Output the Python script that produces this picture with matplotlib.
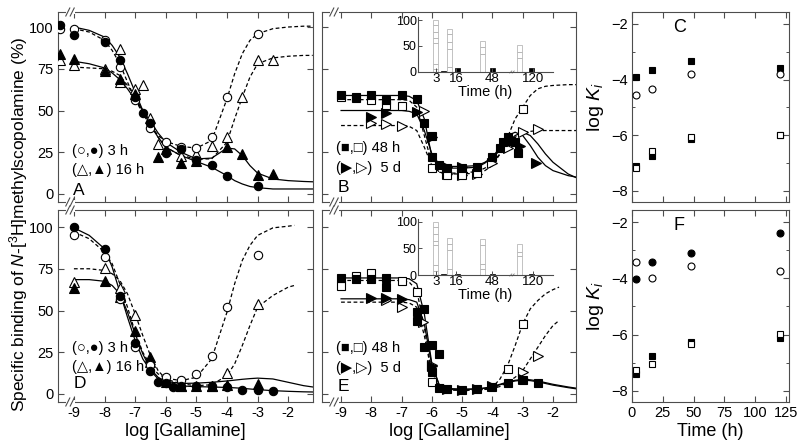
import matplotlib
matplotlib.use("Agg")
import matplotlib.pyplot as plt
import numpy as np

plt.rcParams['font.family'] = ['Liberation Sans', 'DejaVu Sans']
plt.rcParams['mathtext.fontset'] = 'custom'
plt.rcParams['mathtext.rm'] = 'Liberation Sans'
plt.rcParams['mathtext.it'] = 'Liberation Sans:italic'

# ---------------- data: panel A (3 h / 16 h, log[gallamine]) ----------------
A_FC_X = [-9.45, -9, -8, -7.5, -7, -6.75, -6.5, -6, -5.5, -5, -4.5, -4, -3]
A_FC_Y = [101, 95, 91, 80, 58, 48.5, 42.5, 24.5, 27, 20.5, 17.5, 10.8, 4.5]
A_OC_X = [-9.45, -9, -8, -7.5, -7, -6.5, -6, -5.5, -5, -4.5, -4, -3]
A_OC_Y = [99, 99, 92, 76, 56, 39.5, 31, 28, 27.5, 34, 58, 96]
A_FT_X = [-9.45, -9, -8, -7.5, -7, -6.25, -6, -5.5, -5, -4, -3.5, -3, -2.5]
A_FT_Y = [84, 81, 73.5, 69, 60, 22, 27, 18.5, 20, 28, 24, 11.5, 12]
A_OT_X = [-9.45, -9, -8, -7.5, -7.5, -7, -6.75, -6.5, -6.25, -5.5, -5, -4.5, -4, -3.5, -3, -2.5]
A_OT_Y = [80, 77, 75, 87, 67, 63, 65.5, 45.5, 30, 23, 24, 29, 34, 58, 80, 80]

GRID_AD = [-9, -8.5, -8, -7.75, -7.5, -7.25, -7, -6.75, -6.5, -6.25, -6, -5.5, -5,
           -4.5, -4, -3.75, -3.5, -3.25, -3, -2.5, -2, -1.5, -1.2]
A_FIT_FC = [100, 98, 94, 89, 82, 72, 61, 50, 41, 34, 28, 23, 19.5, 16, 11, 8, 6, 4.5, 3.8, 3, 3, 3, 3]
A_FIT_FT = [79.5, 78, 75.5, 72.5, 68.5, 63, 56.5, 50, 43.5, 36.5, 31, 25, 21, 21.5, 27.5, 27, 23, 17, 12.5, 9, 8, 7.5, 7.3]
A_FIT_OC = [99, 97, 92, 86, 78, 67, 57, 48, 41, 35, 31.5, 28.5, 27.5, 32, 57, 72, 84, 92, 96, 99, 100, 100.5, 100.5]
A_FIT_OT = [76, 75.5, 75, 73.5, 71, 65, 58, 50, 42, 34, 28, 23, 21, 21, 31, 45, 58, 70, 78, 81.5, 82.5, 83, 83]

# ---------------- data: panel B (48 h / 5 d) ----------------
B_FS_X = [-9, -8.5, -8, -7.5, -7, -6.5, -6.25, -6, -6, -5.75, -5.5, -5, -4.5, -4, -3.75, -3.65, -3.5, -3.4, -3.25, -3.15]
B_FS_Y = [59, 58, 59.5, 56, 59, 57, 42.5, 35, 22, 17.5, 15.5, 15.5, 16, 22, 27.5, 31, 34, 32, 31, 24.5]
B_OS_X = [-9, -8.5, -8, -7.5, -7, -6, -5.5, -5, -4.5, -3]
B_OS_Y = [58, 57.5, 56, 53, 52.7, 15.5, 11.4, 11.4, 12.5, 51]
B_FT_X = [-8, -7.5, -6.5, -6, -5.5, -5, -3.1, -2.55]
B_FT_Y = [46, 48.5, 49, 34, 16, 16, 29, 18.5]
B_OT_X = [-8, -7.5, -7, -6.25, -5.5, -5, -4.5, -4, -3.5, -3, -2.5]
B_OT_Y = [42.5, 42, 40.7, 50, 12, 11.5, 12, 18.5, 27.5, 37, 39]

GRID_BE = [-9, -8.5, -8, -7.5, -7.25, -7, -6.75, -6.5, -6.25, -6, -5.75, -5.5, -5,
           -4.5, -4.25, -4, -3.75, -3.5, -3.25, -3, -2.75, -2.5, -2.25, -2, -1.5, -1.2]
B_FIT_FS = [59, 59, 59, 59, 59, 59, 58.5, 56, 45, 22, 16, 15.5, 15.5, 16, 18.5, 22, 28, 35, 37, 35, 29, 22, 17, 14, 11, 10]
B_FIT_FT = [50, 50, 50, 50, 50, 50, 49.5, 48, 38, 24, 17.5, 16.5, 16.5, 17, 19, 22, 26, 31, 35, 37, 35, 30, 24, 19, 12, 9.5]
B_FIT_OS = [56.5, 56.5, 56.5, 56.5, 56.5, 56.5, 56, 52, 35, 18, 13, 12, 12, 12.5, 14, 17, 24, 34, 45, 52, 59, 63, 64.5, 65, 65.5, 65.5]
B_FIT_OT = [41, 41, 41, 41, 41, 41, 40.5, 38, 28, 17, 13, 12.5, 12.5, 13.5, 15.5, 19, 24, 29, 34, 36.5, 37.5, 38, 38, 38, 38, 38]

# ---------------- data: panel D (3 h / 16 h) ----------------
D_FC_X = [-9, -8, -7.5, -7, -6.5, -6.25, -6, -5.75, -5.5, -5, -4.5, -4, -3.5, -3, -2.5]
D_FC_Y = [100, 87, 58.7, 30.5, 14, 7.4, 6.4, 4.2, 4.6, 4.6, 4.6, 4.2, 2.6, 2.6, 1.8]
D_OC_X = [-9, -8, -7.5, -7, -6.5, -6, -5.5, -5, -4.5, -4, -3]
D_OC_Y = [95, 82, 57, 28, 17.5, 10.4, 8.6, 12, 23, 52, 83.5]
D_FT_X = [-9, -8, -7.5, -7, -6.5, -6, -5.5, -5, -4.5, -4, -3]
D_FT_Y = [63.5, 67.7, 58, 37.7, 22, 7.3, 4.6, 4.6, 4.6, 5.6, 6.2]
D_OT_X = [-9, -8, -7.5, -7, -6.5, -5.5, -4.5, -4, -3]
D_OT_Y = [67, 75.5, 63.5, 47.3, 19, 4.6, 4.6, 12.6, 53.6]

D_FIT_FC = [99.5, 95, 87, 76, 61, 46, 32, 21, 14, 9, 6.3, 4.8, 4.4, 4.2, 3.9, 3.7, 3.4, 3, 2.6, 2, 1.6, 1.3, 1.2]
D_FIT_FT = [68.5, 68.5, 67.5, 65, 60, 49, 36, 24, 15, 10, 7.5, 6.3, 6.5, 7, 7.8, 8.3, 8.8, 9.2, 9.5, 9, 7, 5, 4.2]
GRID_AD_DASH = [-9, -8.5, -8, -7.75, -7.5, -7.25, -7, -6.75, -6.5, -6.25, -6, -5.5, -5,
                -4.5, -4, -3.75, -3.5, -3.25, -3, -2.5, -2, -1.8]
D_FIT_OC = [97, 93, 85, 78, 66, 52, 37, 25, 17, 12, 9.5, 8, 10, 21, 49, 66, 80, 89, 95, 99.5, 100.5, 101]
D_FIT_OT = [75, 75, 74, 72, 68, 60, 48, 35, 23, 14, 9, 6, 5, 5.5, 11, 18, 29, 41, 52, 59, 64, 65]

# ---------------- data: panel E (48 h / 5 d) ----------------
E_FS_X = [-9, -8.5, -8, -7.5, -7.5, -6.5, -6.5, -6.25, -6.25, -6, -6, -5.75, -5.75, -5.5, -5, -4.5, -4, -3.5, -3, -2.5]
E_FS_Y = [69.5, 69, 69, 69.5, 64, 49, 44, 51, 28, 29.3, 13, 24, 3.6, 3, 2.4, 3, 4.2, 6.6, 8.4, 6.6]
E_OS_X = [-9, -8.5, -8, -7, -6.5, -6, -3.5, -3]
E_OS_Y = [64.7, 70.7, 72.5, 67.7, 61, 7, 15, 42]
E_FT_X = [-8, -7.5, -7, -6, -5.5, -5, -4.5, -4, -3]
E_FT_Y = [57.7, 57.5, 57, 17, 3, 2.5, 3, 4.5, 9]
E_OT_X = [-7.5, -7, -6.3, -6, -3, -2.5]
E_OT_Y = [56, 52, 43, 17.5, 13, 23]

E_FIT_FS = [69.5, 69.5, 69.5, 69.5, 69.5, 69.5, 69, 66, 48, 18, 5, 3.2, 2.8, 3, 3.5, 4.3, 5.5, 6.8, 7.8, 8.3, 8, 7.3, 6.3, 5.3, 3.8, 3]
E_FIT_FT = [57, 57, 57, 57, 57, 57, 56.5, 55, 42, 17, 5, 3.2, 2.8, 3, 3.6, 4.5, 5.8, 7.2, 8.2, 8.8, 8.5, 7.8, 6.8, 5.8, 4.2, 3.4]
GRID_BE_DASH = [-9, -8.5, -8, -7.5, -7.25, -7, -6.75, -6.5, -6.25, -6, -5.75, -5.5, -5,
                -4.5, -4.25, -4, -3.75, -3.5, -3.25, -3, -2.75, -2.5, -2.25, -2, -1.8]
E_FIT_OS = [68, 68, 68, 68, 68, 68, 67, 62, 40, 12, 4, 2.5, 2.2, 2.5, 3, 4, 9, 17, 29, 42, 51, 56, 60, 62.5, 64]
E_FIT_OT = [55, 55, 55, 55, 55, 55, 54.5, 52, 35, 12, 4, 2.5, 2.2, 2.4, 2.7, 3.2, 4.5, 7, 10, 14, 21, 28, 35, 41, 44]

# ---------------- inset data (bars, 3/16/48/120 h) ----------------
INSET_TIMES = ['3', '16', '48', '120']
B_INSET_SEGS = [[6.5, 16, 55, 64.5, 77, 90, 100], [10, 45, 57, 73, 82.6], [35, 48, 59], [26, 39, 52]]
B_INSET_BLACK = [2, 8, 8, 8]
E_INSET_SEGS = [[8, 18, 56, 65, 78, 90.5, 100], [11, 47.5, 57.6, 70], [11, 21, 57, 68], [35, 44, 57.6]]
E_INSET_BLACK = [1.5, 2, 1.5, 2]

# ---------------- data: panels C and F (log Ki vs time) ----------------
TIME_H = [3, 16, 48, 120]
C_FS_UP = [-3.9, -3.65, -3.33, -3.58]
C_OC = [-4.55, -4.33, -3.8, -3.8]
C_OS = [-7.17, -6.55, -6.08, -5.98]
C_FS_LO = [-7.1, -6.75, -6.15, -6.0]
F_FC = [-4.02, -3.42, -3.1, -2.38]
F_OC = [-3.42, -3.98, -3.55, -3.73]
F_FS = [-7.4, -6.76, -6.27, -6.12]
F_OS = [-7.27, -7.04, -6.33, -5.98]

# ---------------- figure ----------------
W, H = 800, 448
fig = plt.figure(figsize=(8, 4.48), dpi=100)


def rect(l, t, r, b):
    return [l / W, 1 - b / H, (r - l) / W, (b - t) / H]


SPINE = '0.3'


def style(ax):
    for s in ax.spines.values():
        s.set_color(SPINE)
        s.set_linewidth(0.8)
    ax.tick_params(direction='in', length=4, width=0.8, color=SPINE,
                   top=True, right=True, labelsize=10.5, pad=3)


MK = dict(mew=0.8, ls='none', zorder=4)


def pts(ax, x, y, m, filled, ms=6):
    ax.plot(x, y, marker=m, ms=ms, mfc='black' if filled else 'white', mec='black', **MK)


def curve(ax, x, y, dashed):
    ax.plot(x, y, color='black', lw=0.9, ls=(0, (3, 2)) if dashed else '-', zorder=2)


def brk(ax, xpix):
    # axis-break marks drawn as two short slanted strokes on the top and bottom spines
    pos = ax.get_position()
    wpx, hpx = pos.width * W, pos.height * H
    fx = xpix / wpx
    for yy in (0, 1):
        ax.add_patch(plt.Rectangle((fx - 4.5 / wpx, yy - 2 / hpx), 9 / wpx, 4 / hpx,
                                   transform=ax.transAxes, fc='white', ec='none',
                                   clip_on=False, zorder=5))
        for off in (-2.2, 2.2):
            ax.plot([fx + (off - 2) / wpx, fx + (off + 2) / wpx],
                    [yy - 4 / hpx, yy + 4 / hpx], transform=ax.transAxes,
                    color=SPINE, lw=0.8, clip_on=False, zorder=6)


axA = fig.add_axes(rect(58, 12, 313, 202))
axB = fig.add_axes(rect(322, 12, 576, 202))
axC = fig.add_axes(rect(632, 12, 789, 202))
axD = fig.add_axes(rect(58, 210, 313, 402))
axE = fig.add_axes(rect(322, 210, 576, 402))
axF = fig.add_axes(rect(632, 210, 789, 402))

for ax in (axA, axD):
    ax.set_xlim(-9.52, -1.19)
for ax in (axB, axE):
    ax.set_xlim(-9.63, -1.24)
for ax in (axA, axB):
    ax.set_ylim(-4.8, 109)
for ax in (axD, axE):
    ax.set_ylim(-4.8, 110.2)
for ax in (axA, axB, axD, axE):
    style(ax)
    ax.set_xticks(np.arange(-9, -1, 1))
    ax.set_yticks([0, 25, 50, 75, 100])
for ax in (axA, axB):
    ax.tick_params(labelbottom=False)
for ax in (axB, axE):
    ax.tick_params(labelleft=False)
for ax in (axD, axE):
    ax.set_xticklabels([str(v) for v in range(-9, -1)])
    ax.set_xlabel('log [Gallamine]', fontsize=13, labelpad=2)

brk(axA, 12)
brk(axD, 12)
brk(axB, 12)
brk(axE, 12)

# Panel A
curve(axA, GRID_AD, A_FIT_FC, False)
curve(axA, GRID_AD, A_FIT_FT, False)
curve(axA, GRID_AD, A_FIT_OC, True)
curve(axA, GRID_AD, A_FIT_OT, True)
pts(axA, A_OT_X, A_OT_Y, '^', False, 6.5)
pts(axA, A_FT_X, A_FT_Y, '^', True, 6.5)
pts(axA, A_OC_X, A_OC_Y, 'o', False)
pts(axA, A_FC_X, A_FC_Y, 'o', True)

# Panel B
curve(axB, GRID_BE, B_FIT_FS, False)
curve(axB, GRID_BE, B_FIT_FT, False)
curve(axB, GRID_BE, B_FIT_OS, True)
curve(axB, GRID_BE, B_FIT_OT, True)
pts(axB, B_OT_X, B_OT_Y, '>', False, 6.5)
pts(axB, B_FT_X, B_FT_Y, '>', True, 6.5)
pts(axB, B_OS_X, B_OS_Y, 's', False, 5.5)
pts(axB, B_FS_X, B_FS_Y, 's', True, 5.5)

# Panel D
curve(axD, GRID_AD, D_FIT_FC, False)
curve(axD, GRID_AD, D_FIT_FT, False)
curve(axD, GRID_AD_DASH, D_FIT_OC, True)
curve(axD, GRID_AD_DASH, D_FIT_OT, True)
pts(axD, D_OT_X, D_OT_Y, '^', False, 6.5)
pts(axD, D_FT_X, D_FT_Y, '^', True, 6.5)
pts(axD, D_OC_X, D_OC_Y, 'o', False)
pts(axD, D_FC_X, D_FC_Y, 'o', True)

# Panel E
curve(axE, GRID_BE, E_FIT_FS, False)
curve(axE, GRID_BE, E_FIT_FT, False)
curve(axE, GRID_BE_DASH, E_FIT_OS, True)
curve(axE, GRID_BE_DASH, E_FIT_OT, True)
pts(axE, E_OT_X, E_OT_Y, '>', False, 6.5)
pts(axE, E_FT_X, E_FT_Y, '>', True, 6.5)
pts(axE, E_OS_X, E_OS_Y, 's', False, 5.5)
pts(axE, E_FS_X, E_FS_Y, 's', True, 5.5)

# legends and panel letters
LEGS = [
    (axA, '(\u25cb,\u25cf) 3 h', '(\u25b3,\u25b2) 16 h', 0.27, 0.168, 'A', 0.063),
    (axD, '(\u25cb,\u25cf) 3 h', '(\u25b3,\u25b2) 16 h', 0.28, 0.18, 'D', 0.094),
    (axB, '(\u25a0,\u25a1) 48 h', '(\u25b6,\u25b7)  5 d', 0.284, 0.18, 'B', 0.074),
    (axE, '(\u25a0,\u25a1) 48 h', '(\u25b6,\u25b7)  5 d', 0.28, 0.177, 'E', 0.083),
]
for ax, l1, l2, y1, y2, let, y3 in LEGS:
    ax.text(0.055, y1, l1, transform=ax.transAxes, fontsize=10.5, va='center', zorder=7)
    ax.text(0.055, y2, l2, transform=ax.transAxes, fontsize=10.5, va='center', zorder=7)
    ax.text(0.06, y3, let, transform=ax.transAxes, fontsize=12.5, va='center', zorder=7)

fig.text(18.5 / W, 0.5, 'Specific binding of $\\mathit{N}$-[$^{3}$H]methylscopolamine (%)',
         rotation=90, ha='center', va='center', fontsize=12.5)

# Insets
INSET_GRAY_POS = [17, 31, 65, 102]
INSET_BLACK_POS = [25, 39.5, 74.5, 114]
INSET_TICK_POS = [18, 38, 74, 115]


def inset(r, segs, blacks):
    ai = fig.add_axes(r)
    ai.patch.set_alpha(0)
    ai.set_xlim(0, 135)
    ai.set_ylim(0, 105)
    for k in ('top', 'right'):
        ai.spines[k].set_visible(False)
    for k in ('left', 'bottom'):
        ai.spines[k].set_color(SPINE)
        ai.spines[k].set_linewidth(0.8)
    for xp, s in zip(INSET_GRAY_POS, segs):
        bottoms = [0] + s[:-1]
        heights = [b - a for a, b in zip(bottoms, s)]
        ai.bar([xp] * len(s), heights, bottom=bottoms, width=5, color='none',
               edgecolor='0.72', linewidth=0.6)
    ai.bar(INSET_BLACK_POS, blacks, width=5, color='black', edgecolor='black', linewidth=0.5)
    ai.set_yticks([0, 50, 100])
    ai.set_xticks(INSET_TICK_POS)
    ai.set_xticklabels(INSET_TIMES)
    ai.tick_params(direction='in', length=3, width=0.7, color=SPINE, labelsize=9.5, pad=1)
    ai.tick_params(axis='y', labelsize=9, pad=1)
    ai.set_xlabel('Time (h)', fontsize=10.5, labelpad=0)
    for off in (-1.2, 1.2):
        ai.plot([94 + off - 1, 94 + off + 1], [-2, 2], color='0.5', lw=0.6, clip_on=False)
    return ai


inset(rect(418, 17.4, 553, 72), B_INSET_SEGS, B_INSET_BLACK)
inset(rect(418, 219.3, 553, 275), E_INSET_SEGS, E_INSET_BLACK)

# Panels C and F
for ax in (axC, axF):
    style(ax)
    ax.set_xlim(0, 127.5)
    ax.set_ylim(-8.4, -1.57)
    ax.set_xticks([0, 25, 50, 75, 100, 125])
    ax.set_yticks([-8, -6, -4, -2])
    ax.set_yticks([-7, -5, -3], minor=True)
    ax.tick_params(which='minor', direction='in', length=2.5, width=0.7, color=SPINE,
                   top=True, right=True)
    ax.set_ylabel('log $\\mathit{K}_{i}$', fontsize=14, labelpad=4)
axC.tick_params(labelbottom=False)
axF.set_xlabel('Time (h)', fontsize=13, labelpad=2)

SM = 5
pts(axC, TIME_H, C_FS_UP, 's', True, SM)
pts(axC, TIME_H, C_OC, 'o', False, SM)
pts(axC, TIME_H, C_FS_LO, 's', True, SM)
pts(axC, TIME_H, C_OS, 's', False, SM)
pts(axF, TIME_H, F_FC, 'o', True, SM)
pts(axF, TIME_H, F_OC, 'o', False, SM)
pts(axF, TIME_H, F_FS, 's', True, SM)
pts(axF, TIME_H, F_OS, 's', False, SM)
axC.text(0.3, 0.92, 'C', transform=axC.transAxes, fontsize=13, va='center', ha='center')
axF.text(0.3, 0.92, 'F', transform=axF.transAxes, fontsize=13, va='center', ha='center')

fig.savefig('out.png', dpi=100)
